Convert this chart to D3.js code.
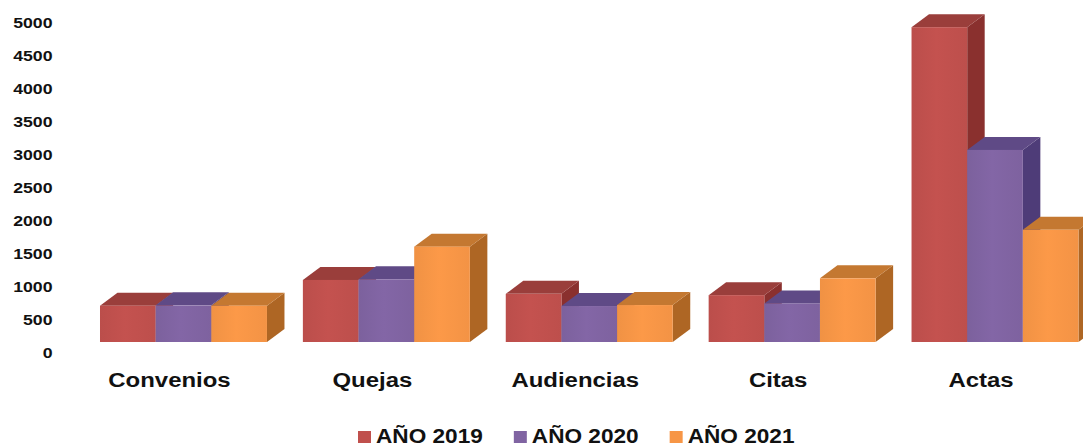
<!DOCTYPE html>
<html>
<head>
<meta charset="utf-8">
<script src="https://cdn.jsdelivr.net/npm/d3@7"></script>
<style>
  html, body { margin: 0; padding: 0; background: #ffffff; }
  svg { display: block; }
  text { font-family: "Liberation Sans", Arial, sans-serif; font-weight: bold; fill: #111; }
</style>
</head>
<body>
<svg id="chart" width="1083" height="447"></svg>
<script>
// ---- data ----
const categories = ["Convenios", "Quejas", "Audiencias", "Citas", "Actas"];
const seriesNames = ["AÑO 2019", "AÑO 2020", "AÑO 2021"];
const values2019 = [550, 940, 730, 710, 4770];
const values2020 = [555, 950, 545, 585, 2910];
const values2021 = [550, 1445, 560, 965, 1700];
const yTickValues = [0, 500, 1000, 1500, 2000, 2500, 3000, 3500, 4000, 4500, 5000];

const seriesValues = [values2019, values2020, values2021];
const frontColors = ["#C0504D", "#8064A2", "#F79646"];
const topColors   = ["#9A3E3B", "#5F4A86", "#C47831"];
const sideColors  = ["#8A302E", "#4E3C78", "#AE6624"];

const svg = d3.select("#chart");
const SX = 1.14; // horizontal text stretch of the source image

// gradients for front faces
const defs = svg.append("defs");
frontColors.forEach((c, i) => {
  const g = defs.append("linearGradient").attr("id", "fg" + i)
    .attr("x1", "0").attr("x2", "1").attr("y1", "0").attr("y2", "0");
  const base = d3.color(c);
  g.append("stop").attr("offset", "0%").attr("stop-color", base.darker(0.08));
  g.append("stop").attr("offset", "45%").attr("stop-color", base.brighter(0.06));
  g.append("stop").attr("offset", "100%").attr("stop-color", base.darker(0.05));
});

// scales
const x = d3.scaleBand().domain(categories)
  .range([82, 1096.5]).paddingInner(0.177).paddingOuter(0.0887);
const xs = d3.scaleBand().domain(seriesNames).range([0, x.bandwidth()]);
const y = d3.scaleLinear().domain([0, 5000]).range([342, 12]);

const DX = 17.5, DY = 13;

// y axis labels (drawn from the scale, offset to the label plane)
const axisOffset = 10.8;
const yAxis = svg.append("g").attr("transform", `translate(0,${axisOffset})`);
yAxis.selectAll("text").data(yTickValues).enter().append("text")
  .attr("transform", d => `translate(52.5,${y(d)}) scale(${SX},1)`)
  .attr("text-anchor", "end")
  .attr("dy", "0.36em")
  .style("font-size", "15.5px")
  .text(d => d);

// bars
const bars = svg.append("g");
categories.forEach((cat, ci) => {
  const g = bars.append("g");
  seriesNames.forEach((s, si) => {
    const v = seriesValues[si][ci];
    const x0 = x(cat) + xs(s);
    const x1 = x0 + xs.bandwidth();
    const yt = y(v), yb = y(0);
    g.append("path")
      .attr("d", `M${x1},${yt} L${x1 + DX},${yt - DY} L${x1 + DX},${yb - DY} L${x1},${yb} Z`)
      .attr("fill", sideColors[si]);
    g.append("path")
      .attr("d", `M${x0},${yt} L${x0 + DX},${yt - DY} L${x1 + DX},${yt - DY} L${x1},${yt} Z`)
      .attr("fill", topColors[si]);
    g.append("rect")
      .attr("x", x0).attr("y", yt)
      .attr("width", xs.bandwidth()).attr("height", yb - yt)
      .attr("fill", `url(#fg${si})`);
  });
});

// category labels
svg.append("g").selectAll("text").data(categories).enter().append("text")
  .attr("transform", d => `translate(${x(d) + x.bandwidth() / 2 - 14},387) scale(${SX},1)`)
  .attr("text-anchor", "middle")
  .style("font-size", "21px")
  .text(d => d);

// legend
const legend = svg.append("g");
let lx = 358;
seriesNames.forEach((s, i) => {
  legend.append("rect")
    .attr("x", lx).attr("y", 431).attr("width", 13).attr("height", 12)
    .attr("fill", frontColors[i]);
  const t = legend.append("text")
    .attr("transform", `translate(${lx + 18},443) scale(1.16,1)`)
    .style("font-size", "19.5px")
    .text(s);
  const w = t.node().getComputedTextLength() * 1.16;
  lx = lx + 18 + w + 31;
});
</script>
</body>
</html>
